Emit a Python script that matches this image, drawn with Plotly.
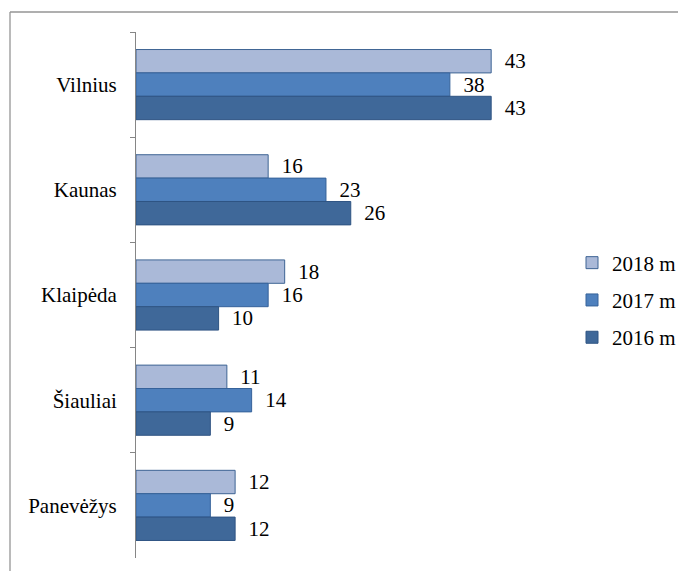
import plotly.graph_objects as go

cities = ["Vilnius", "Kaunas", "Klaipėda", "Šiauliai", "Panevėžys"]
series_names = ["2018 m", "2017 m", "2016 m"]
v2018 = [43, 16, 18, 11, 12]
v2017 = [38, 23, 16, 14, 9]
v2016 = [43, 26, 10, 9, 12]
values = [v2018, v2017, v2016]
fills = ["#AAB9D8", "#4E80BD", "#3F6899"]
edges = ["#3E6494", "#36629A", "#2F5483"]

FONT = "Liberation Serif"
FS = 21
W, H = 678, 571
ML, MR, MT, MB = 136, 129, 32, 13
pw, ph = W - ML - MR, H - MT - MB

fig = go.Figure()
for name, vals, fc, ec in zip(series_names, values, fills, edges):
    fig.add_trace(go.Bar(
        name=name, y=cities, x=vals, orientation="h",
        marker=dict(color=fc, line=dict(color=ec, width=1)),
        text=["\u00a0\u00a0" + str(v) for v in vals],
        textposition="outside", constraintext="none", cliponaxis=False,
        textfont=dict(family=FONT, size=FS, color="black"),
        legendgroup=name,
    ))

def px2x(p):
    return (p - ML) / pw

def px2y(p):
    return 1 - (p - MT) / ph

fig.update_layout(
    width=W, height=H,
    margin=dict(l=ML, r=MR, t=MT, b=MB, autoexpand=False),
    paper_bgcolor="white", plot_bgcolor="white",
    barmode="group", bargap=0.333, bargroupgap=0,
    font=dict(family=FONT, size=FS, color="black"),
    xaxis=dict(range=[0, 50], visible=False),
    yaxis=dict(
        autorange="reversed", type="category",
        showline=True, linecolor="#868686", linewidth=1,
        ticks="outside", tickson="boundaries", ticklen=5, tickcolor="#868686",
        tickfont=dict(family=FONT, size=FS, color="black"),
        ticklabelstandoff=14, showgrid=False, zeroline=False,
    ),
    legend=dict(
        x=px2x(572), y=px2y(300), xanchor="left", yanchor="middle",
        font=dict(family=FONT, size=FS, color="black"),
        tracegroupgap=7, bgcolor="rgba(0,0,0,0)",
        itemwidth=30,
    ),
    shapes=[
        dict(type="line", xref="paper", yref="paper",
             x0=px2x(10), x1=px2x(700), y0=px2y(12), y1=px2y(12),
             line=dict(color="#959595", width=1.3)),
        dict(type="line", xref="paper", yref="paper",
             x0=px2x(10), x1=px2x(10), y0=px2y(12), y1=px2y(600),
             line=dict(color="#959595", width=1.3)),
    ],
)

fig.write_html("out.html", config={"displayModeBar": False},
               post_script="document.body.style.margin='0';")
